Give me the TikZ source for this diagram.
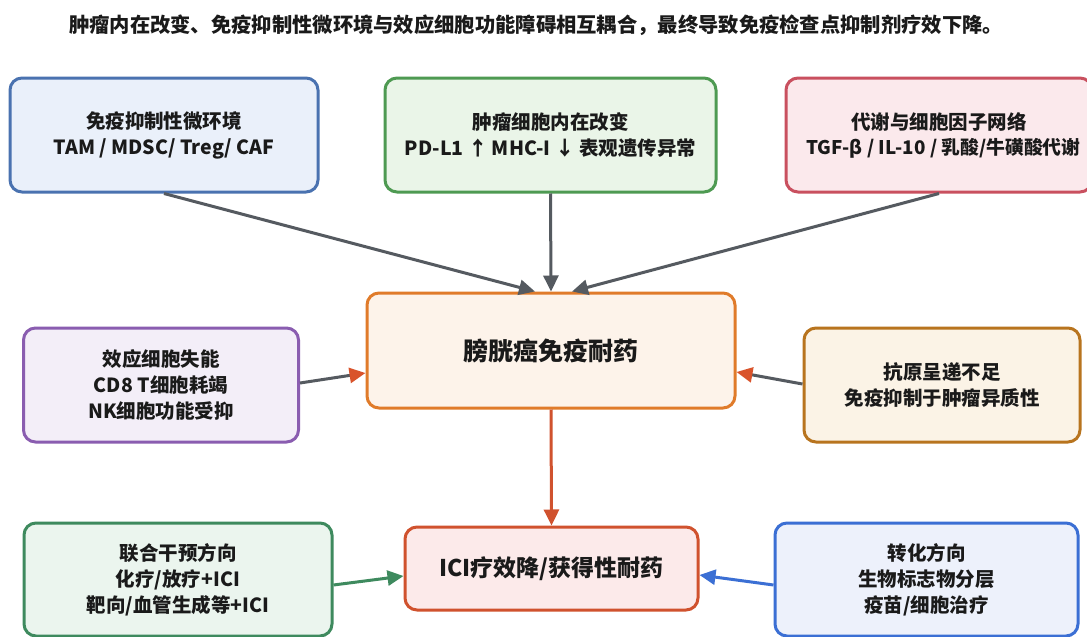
\documentclass[tikz,border=0pt]{standalone}
\usepackage{fontspec}
\setmainfont{Noto Sans CJK SC}
\usetikzlibrary{arrows.meta}
\definecolor{bluebd}{HTML}{4A72B0}\definecolor{bluefl}{HTML}{EAF0FA}
\definecolor{grnbd}{HTML}{4E9A52}\definecolor{grnfl}{HTML}{EAF5E8}
\definecolor{redbd}{HTML}{C9505F}\definecolor{redfl}{HTML}{FBE9EC}
\definecolor{orbd}{HTML}{E07B2A}\definecolor{orfl}{HTML}{FDF3EA}
\definecolor{purbd}{HTML}{8A5DB0}\definecolor{purfl}{HTML}{F3EEF8}
\definecolor{brbd}{HTML}{B8741E}\definecolor{brfl}{HTML}{FBF3E6}
\definecolor{bcbd}{HTML}{D0522E}\definecolor{bcfl}{HTML}{FCEAEA}
\definecolor{g2bd}{HTML}{3E8A5E}\definecolor{g2fl}{HTML}{EBF5EE}
\definecolor{b2bd}{HTML}{3B6FD4}\definecolor{b2fl}{HTML}{EDF1FB}
\definecolor{arrgray}{HTML}{555A60}
\definecolor{headred}{HTML}{D9532B}
\definecolor{txt}{HTML}{1A1A1A}
\tikzset{
  boxfont/.style={font=\bfseries\fontsize{19.5}{26}\selectfont, text=txt},
  box/.style={draw, line width=3pt, rounded corners=12pt, align=center,
    inner sep=0pt, boxfont},
  con/.style={line width=3pt, arrgray},
  tip/.style={-{Triangle[length=16pt,width=15pt]}},
}
\begin{document}
\begin{tikzpicture}[x=1pt,y=-1pt]
\useasboundingbox (0,0) rectangle (1087,637);
\clip (0,0) rectangle (1087,637);
\fill[white] (0,0) rectangle (1087,637);
\node[font=\fontsize{20.3}{24}\selectfont\bfseries, text=txt] (title) at (536,25)
  {肿瘤内在改变、免疫抑制性微环境与效应细胞功能障碍相互耦合，最终导致免疫检查点抑制剂疗效下降。};
\node[box, draw=bluebd, fill=bluefl, minimum width=308pt, minimum height=114pt] (tl) at (164,135)
  {免疫抑制性微环境\\TAM / MDSC/ Treg/ CAF};
\node[box, draw=grnbd, fill=grnfl, minimum width=331pt, minimum height=114pt] (tm) at (550.5,135)
  {肿瘤细胞内在改变\\PD-L1 ↑ MHC-I ↓ 表观遗传异常};
\node[box, draw=redbd, fill=redfl, minimum width=306pt, minimum height=114pt] (tr) at (939,135) {};
\node[boxfont] (trt1) at (939,122) {代谢与细胞因子网络};
\node[font=\bfseries\fontsize{18.8}{26}\selectfont, text=txt, anchor=west, inner sep=0pt] (trt2) at (806,148) {TGF-β / IL-10 / 乳酸/牛磺酸代谢};
\node[box, draw=orbd, fill=orfl, minimum width=368pt, minimum height=115pt,
  font=\fontsize{25}{30}\selectfont\bfseries] (c) at (551,350.5) {膀胱癌免疫耐药};
\node[box, draw=purbd, fill=purfl, minimum width=275pt, minimum height=114pt] (ml) at (161,385)
  {效应细胞失能\\CD8 T细胞耗竭\\NK细胞功能受抑};
\node[box, draw=brbd, fill=brfl, minimum width=276pt, minimum height=114pt] (mr) at (942,385)
  {抗原呈递不足\\免疫抑制于肿瘤异质性};
\node[box, draw=bcbd, fill=bcfl, minimum width=293pt, minimum height=83pt,
  font=\fontsize{23}{28}\selectfont\bfseries] (bc) at (551.5,568.5) {ICI疗效降/获得性耐药};
\node[box, draw=g2bd, fill=g2fl, minimum width=308pt, minimum height=113pt] (bl) at (178,579.5)
  {联合干预方向\\化疗/放疗+ICI\\靶向/血管生成等+ICI};
\node[box, draw=b2bd, fill=b2fl, minimum width=303pt, minimum height=113pt] (br) at (926.5,579.5)
  {转化方向\\生物标志物分层\\疫苗/细胞治疗};
% connectors
\draw[con, tip] (tl.south) -- ([xshift=-16pt]c.north);
\draw[con, tip] (tm.south) -- (c.north);
\draw[con, tip] (tr.south) -- ([xshift=21pt]c.north);
\draw[con, -{Triangle[length=16pt,width=15pt,color=headred]}] ([yshift=2pt]ml.east) -- ([yshift=-22.5pt]c.west);
\draw[con, -{Triangle[length=16pt,width=15pt,color=headred]}] ([yshift=1pt]mr.west) -- ([yshift=-21.5pt]c.east);
\draw[con, tip, color=bcbd] (c.south) -- (bc.north);
\draw[con, tip, color=g2bd] ([yshift=-5.5pt]bl.east) -- ([yshift=-7.5pt]bc.west);
\draw[con, tip, color=b2bd] ([yshift=-5.5pt]br.west) -- ([yshift=-6.5pt]bc.east);
\end{tikzpicture}
\end{document}
